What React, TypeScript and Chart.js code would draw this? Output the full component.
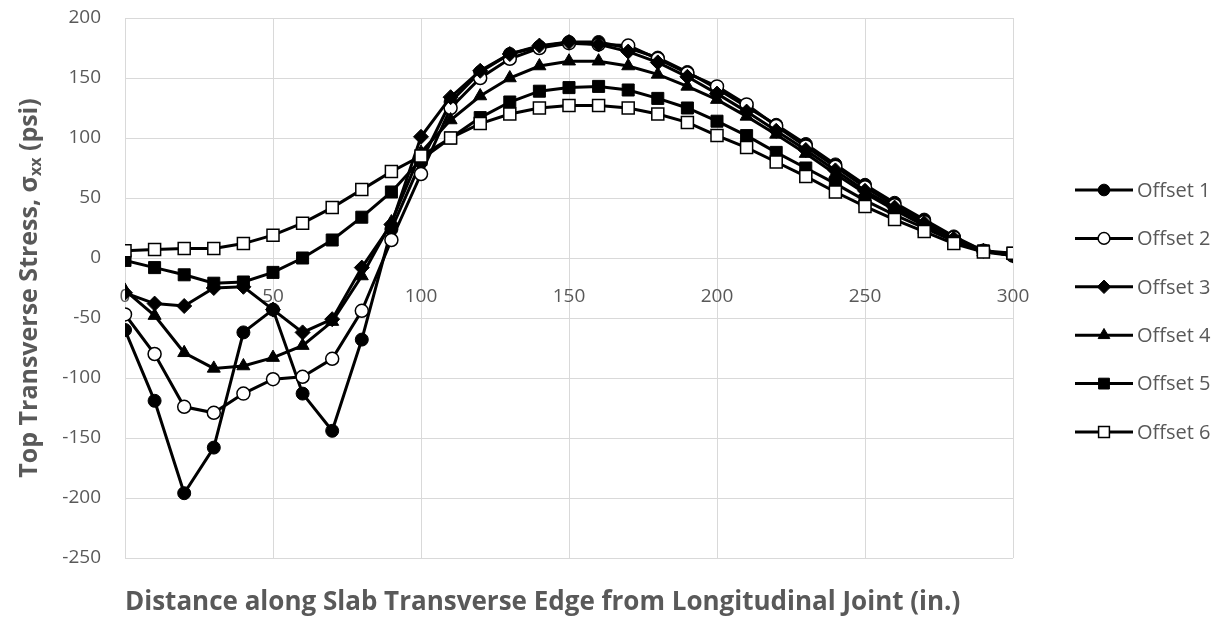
import React, { useEffect, useRef } from 'react';
import { Chart, registerables } from 'chart.js';
import { drawPoint } from 'chart.js/helpers';

Chart.register(...registerables);

const distances = [0, 10, 20, 30, 40, 50, 60, 70, 80, 90, 100, 110, 120, 130, 140, 150, 160, 170, 180, 190, 200, 210, 220, 230, 240, 250, 260, 270, 280, 290, 300];

const offset1 = [-60, -119, -196, -158, -62, -43, -113, -144, -68, 24, 80, 130, 155, 170, 176, 180, 180, 175, 167, 155, 141, 126, 111, 95, 78, 61, 46, 32, 18, 6, 2];
const offset2 = [-47, -80, -124, -129, -113, -101, -99, -84, -44, 15, 70, 125, 150, 166, 175, 179, 178, 177, 166, 154, 143, 128, 110, 93, 76, 59, 44, 30, 17, 6, 2];
const offset3 = [-29, -38, -40, -25, -24, -43, -62, -51, -8, 28, 101, 134, 156, 170, 177, 180, 178, 172, 163, 151, 137, 122, 106, 90, 73, 56, 42, 29, 16, 6, 2];
const offset4 = [-27, -48, -79, -92, -90, -83, -73, -53, -15, 30, 88, 115, 135, 150, 160, 164, 164, 160, 153, 143, 132, 118, 103, 87, 70, 54, 40, 27, 15, 5, 2];
const offset5 = [-2, -8, -14, -21, -20, -12, 0, 15, 34, 55, 82, 100, 117, 130, 139, 142, 143, 140, 133, 125, 114, 102, 88, 75, 62, 48, 36, 25, 14, 6, 4];
const offset6 = [6, 7, 8, 8, 12, 19, 29, 42, 57, 72, 85, 100, 112, 120, 125, 127, 127, 125, 120, 113, 102, 92, 80, 68, 55, 43, 32, 22, 12, 5, 4];

const seriesNames = ['Offset 1', 'Offset 2', 'Offset 3', 'Offset 4', 'Offset 5', 'Offset 6'];
const seriesValues = [offset1, offset2, offset3, offset4, offset5, offset6];

const xTitle = 'Distance along Slab Transverse Edge from Longitudinal Joint (in.)';
const yTitleMain = 'Top Transverse Stress, σ';
const yTitleSub = 'xx';
const yTitleEnd = ' (psi)';

const FONT = "'Open Sans', sans-serif";
const TEXT = '#595959';
const GRID = '#d9d9d9';

const markerStyles = [
  { pointStyle: 'circle', fill: '#000000', radius: 6.5 },
  { pointStyle: 'circle', fill: '#ffffff', radius: 6.5 },
  { pointStyle: 'rectRot', fill: '#000000', radius: 7.5 },
  { pointStyle: 'triangle', fill: '#000000', radius: 7.5 },
  { pointStyle: 'rect', fill: '#000000', radius: 8.5 },
  { pointStyle: 'rect', fill: '#ffffff', radius: 8.5 },
];

const legendPlugin = {
  id: 'customLegend',
  afterDraw(chart: any) {
    const ctx = chart.ctx;
    chart.data.datasets.forEach((ds: any, i: number) => {
      const y = 190 + i * 48.4;
      ctx.save();
      ctx.strokeStyle = '#000000';
      ctx.lineWidth = 3;
      ctx.beginPath();
      ctx.moveTo(1075, y);
      ctx.lineTo(1133, y);
      ctx.stroke();
      ctx.fillStyle = ds.pointBackgroundColor;
      ctx.strokeStyle = ds.pointBorderColor;
      ctx.lineWidth = ds.pointBorderWidth;
      drawPoint(ctx, { pointStyle: ds.pointStyle, radius: ds.pointRadius * 0.9, rotation: 0, borderWidth: ds.pointBorderWidth } as any, 1104, y);
      ctx.fillStyle = TEXT;
      ctx.font = `20px ${FONT}`;
      ctx.textBaseline = 'middle';
      ctx.textAlign = 'left';
      ctx.fillText(ds.label, 1137, y + 1);
      ctx.restore();
    });
  },
};

const yTitlePlugin = {
  id: 'yTitle',
  afterDraw(chart: any) {
    const ctx = chart.ctx;
    const main = `bold 25px ${FONT}`;
    const sub = `bold 16px ${FONT}`;
    ctx.save();
    ctx.font = main;
    const w1 = ctx.measureText(yTitleMain).width;
    const w3 = ctx.measureText(yTitleEnd).width;
    ctx.font = sub;
    const w2 = ctx.measureText(yTitleSub).width;
    const total = w1 + w2 + w3;
    const cy = (chart.chartArea.top + chart.chartArea.bottom) / 2;
    ctx.translate(30, cy);
    ctx.rotate(-Math.PI / 2);
    ctx.fillStyle = TEXT;
    ctx.textBaseline = 'middle';
    ctx.textAlign = 'left';
    let x = -total / 2;
    ctx.font = main;
    ctx.fillText(yTitleMain, x, 0);
    x += w1;
    ctx.font = sub;
    ctx.fillText(yTitleSub, x, 6);
    x += w2;
    ctx.font = main;
    ctx.fillText(yTitleEnd, x, 0);
    ctx.restore();
  },
};

export default function App() {
  const canvasRef = useRef<HTMLCanvasElement | null>(null);

  useEffect(() => {
    document.body.style.margin = '0';
    const canvas = canvasRef.current;
    if (!canvas) return;
    const datasets = seriesNames.map((name, i) => ({
      label: name,
      data: distances.map((d, j) => ({ x: d, y: seriesValues[i][j] })),
      borderColor: '#000000',
      borderWidth: 3,
      pointStyle: markerStyles[i].pointStyle,
      pointRadius: markerStyles[i].radius,
      pointBackgroundColor: markerStyles[i].fill,
      pointBorderColor: '#000000',
      pointBorderWidth: markerStyles[i].fill === '#ffffff' ? 1.5 : 1,
      tension: 0,
      order: 6 - i,
    }));
    const chart = new Chart(canvas, {
      type: 'line',
      data: { datasets },
      options: {
        animation: false,
        responsive: true,
        maintainAspectRatio: false,
        events: [],
        layout: { padding: { left: 0, right: 217, top: 18, bottom: 0 } },
        plugins: {
          legend: { display: false },
          tooltip: { enabled: false },
        },
        scales: {
          x: {
            type: 'linear',
            min: 0,
            max: 300,
            position: 'bottom',
            ticks: { display: false, stepSize: 50 },
            grid: { color: GRID, lineWidth: 1, drawTicks: false },
            border: { display: false },
            title: {
              display: true,
              text: xTitle,
              align: 'start',
              color: TEXT,
              font: { family: FONT, size: 26, weight: 'bold' },
              padding: { top: 0, bottom: 1 },
            },
            afterFit: (scale: any) => {
              scale.height = 61;
              scale.paddingLeft = 0;
              scale.paddingRight = 0;
            },
          },
          x2: {
            type: 'linear',
            axis: 'x',
            min: 0,
            max: 300,
            position: { y: 0 },
            ticks: { stepSize: 50, color: TEXT, padding: 27, font: { family: FONT, size: 19 } },
            grid: { display: false, drawTicks: false },
            border: { display: false },
          },
          y: {
            type: 'linear',
            min: -250,
            max: 200,
            ticks: { stepSize: 50, color: TEXT, padding: 24, font: { family: FONT, size: 19 } },
            grid: { color: GRID, lineWidth: 1, drawTicks: false },
            border: { display: false },
            afterFit: (scale: any) => {
              scale.width = 125;
              scale.paddingTop = 0;
              scale.paddingBottom = 0;
            },
          },
        },
      } as any,
      plugins: [legendPlugin, yTitlePlugin],
    });
    return () => chart.destroy();
  }, []);

  return (
    <div style={{ width: 1230, height: 619, position: 'relative', background: '#ffffff' }}>
      <canvas ref={canvasRef} />
    </div>
  );
}
